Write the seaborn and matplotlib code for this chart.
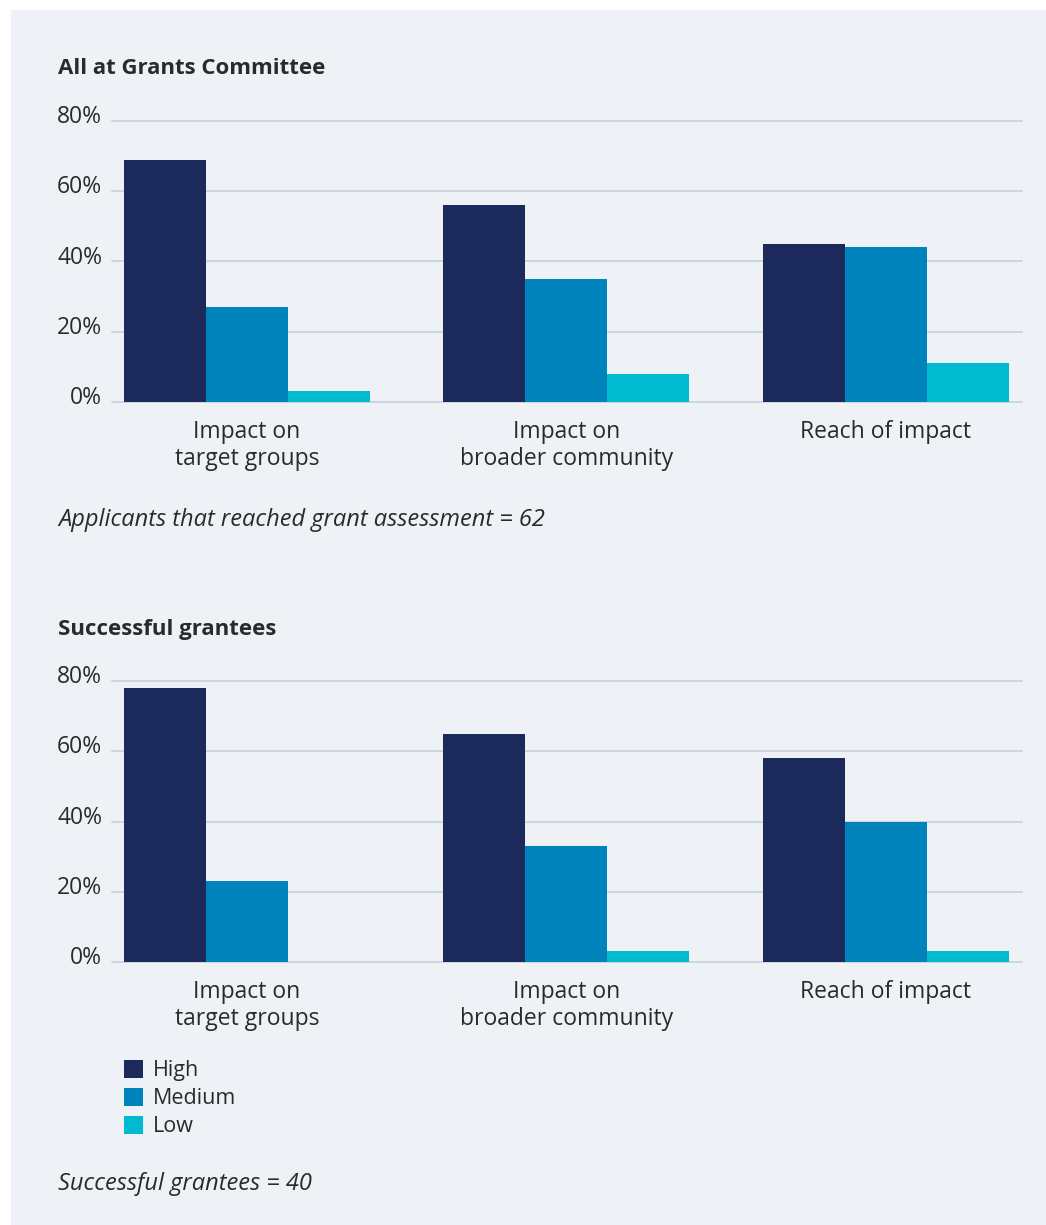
import matplotlib
matplotlib.use("Agg")
import matplotlib.pyplot as plt
import matplotlib.transforms as mtransforms
import seaborn as sns
import pandas as pd
from matplotlib.patches import Rectangle

# ---- data ----
categories = ["Impact on\ntarget groups", "Impact on\nbroader community", "Reach of impact"]
levels = ["High", "Medium", "Low"]
committee_high = [69, 56, 45]
committee_medium = [27, 35, 44]
committee_low = [3, 8, 11]
grantees_high = [78, 65, 58]
grantees_medium = [23, 33, 40]
grantees_low = [0, 3, 3]
y_ticks = [0, 20, 40, 60, 80]
y_tick_labels = ["0%", "20%", "40%", "60%", "80%"]
titles = ["All at Grants Committee", "Successful grantees"]
notes = ["Applicants that reached grant assessment = 62", "Successful grantees = 40"]

colors = {"High": "#1c2a5b", "Medium": "#0083bb", "Low": "#00bbd0"}
BG = "#eef2f6"
TXT = "#2a2a2a"
GRID = "#c9d3dc"

def make_df(h, m, l):
    rows = []
    for lvl, vals in zip(levels, [h, m, l]):
        for c, v in zip(categories, vals):
            rows.append({"category": c, "level": lvl, "value": v})
    return pd.DataFrame(rows)

df_top = make_df(committee_high, committee_medium, committee_low)
df_bot = make_df(grantees_high, grantees_medium, grantees_low)

sns.set_theme(style="white")
plt.rcParams["font.family"] = ["Open Sans", "DejaVu Sans"]

W, H = 1046, 1225
fig = plt.figure(figsize=(W / 100, H / 100), dpi=100)
fig.patch.set_facecolor("white")
fig.patches.append(Rectangle((11 / W, 0), (W - 11) / W, (H - 10) / H,
                             transform=fig.transFigure, facecolor=BG,
                             edgecolor="none", zorder=-10))

def px_axes(left, right, top, bottom):
    return fig.add_axes([left / W, 1 - bottom / H, (right - left) / W, (bottom - top) / H])

FS = 16.5
ax_specs = [(121, 402), (681, 962)]
dfs = [df_top, df_bot]
axes = []
shift = mtransforms.ScaledTranslation(0, -2 / 100, fig.dpi_scale_trans)
for i, ((top, bot), df) in enumerate(zip(ax_specs, dfs)):
    ax = px_axes(112, 1022, top, bot)
    ax.set_facecolor("none")
    sns.barplot(data=df, x="category", y="value", hue="level", hue_order=levels,
                palette=colors, width=0.77, saturation=1, linewidth=0,
                legend=(i == 1), ax=ax, zorder=3)
    ax.set_ylim(0, 80)
    ax.set_xlim(-0.4225, 2.4257)
    ax.set_yticks(y_ticks)
    ax.set_yticklabels(y_tick_labels, fontsize=FS, color=TXT)
    ax.tick_params(axis="y", length=0, pad=7)
    ax.tick_params(axis="x", length=0, pad=13)
    for lbl in ax.get_xticklabels():
        lbl.set_fontsize(FS)
        lbl.set_color(TXT)
        lbl.set_linespacing(1.18)
    for lbl in ax.get_yticklabels():
        lbl.set_verticalalignment("baseline")
        lbl.set_transform(lbl.get_transform() + shift)
    for t in y_ticks:
        ax.axhline(t, color=GRID, linewidth=1.3, zorder=1, clip_on=False)
    for s in ax.spines.values():
        s.set_visible(False)
    ax.set_xlabel("")
    ax.set_ylabel("")
    axes.append(ax)

# titles and notes
fig.text(58 / W, 1 - 69 / H, titles[0], fontsize=16, fontweight="bold", color=TXT, va="center", ha="left")
fig.text(58 / W, 1 - 629 / H, titles[1], fontsize=16, fontweight="bold", color=TXT, va="center", ha="left")
fig.text(58 / W, 1 - 520 / H, notes[0], fontsize=17, fontstyle="italic", color=TXT, va="center", ha="left")
fig.text(58 / W, 1 - 1184 / H, notes[1], fontsize=17, fontstyle="italic", color=TXT, va="center", ha="left")

# legend
handles, labels = axes[1].get_legend_handles_labels()
axes[1].get_legend().remove()
leg = fig.legend(handles, labels, loc="upper left",
                 bbox_to_anchor=(124 / W, 1 - 1060 / H), frameon=False,
                 fontsize=15.5, handlelength=0.9, handleheight=0.9,
                 labelspacing=0.3, handletextpad=0.45, borderpad=0, borderaxespad=0)
for t in leg.get_texts():
    t.set_color(TXT)

fig.savefig("out.png", dpi=100, facecolor=fig.get_facecolor())
